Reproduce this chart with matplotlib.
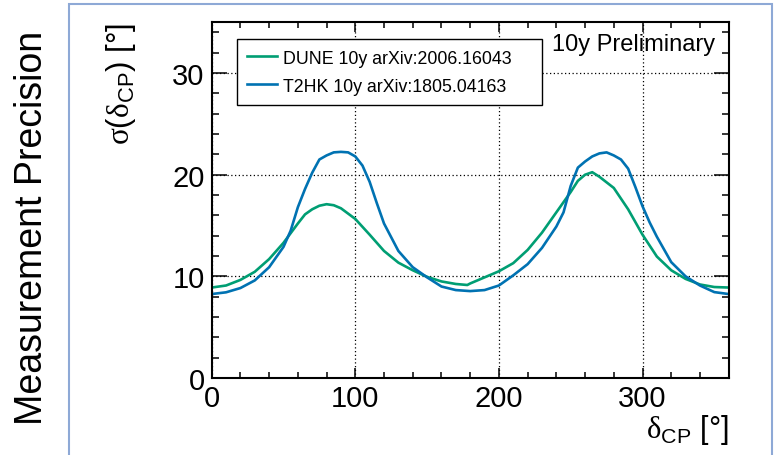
import matplotlib
matplotlib.use("Agg")
import matplotlib.pyplot as plt
from matplotlib.patches import Rectangle
from matplotlib.ticker import MultipleLocator

plt.rcParams['font.family'] = ['Liberation Sans', 'DejaVu Sans']
plt.rcParams['mathtext.fontset'] = 'custom'
plt.rcParams['mathtext.rm'] = 'Liberation Sans'
plt.rcParams['mathtext.it'] = 'Liberation Sans:italic'
plt.rcParams['mathtext.bf'] = 'Liberation Serif'

# sigma(delta_CP) vs true delta_CP, degrees
dune_x = [0, 10, 20, 30, 40, 50, 60, 65, 70, 75, 80, 85, 90, 100, 110, 120, 130,
          140, 150, 160, 170, 178, 180, 190, 200, 210, 220, 230, 240, 250, 255,
          260, 265, 270, 280, 290, 300, 310, 320, 330, 340, 350, 360]
dune_y = [8.9, 9.1, 9.65, 10.45, 11.7, 13.3, 15.2, 16.1, 16.6, 16.95, 17.1, 17.0,
          16.7, 15.65, 14.1, 12.5, 11.35, 10.6, 9.95, 9.5, 9.25, 9.15, 9.3, 9.9,
          10.5, 11.3, 12.6, 14.3, 16.3, 18.3, 19.4, 20.0, 20.25, 19.8, 18.7,
          16.6, 14.1, 11.95, 10.6, 9.75, 9.2, 8.95, 8.9]

t2hk_x = [0, 10, 20, 30, 40, 50, 55, 60, 65, 70, 75, 80, 85, 90, 95, 100, 105,
          110, 115, 120, 130, 140, 150, 160, 170, 180, 190, 200, 210, 220, 230,
          240, 245, 250, 255, 260, 265, 270, 275, 280, 285, 290, 295, 300, 305,
          310, 320, 330, 340, 350, 360]
t2hk_y = [8.26, 8.43, 8.85, 9.6, 10.9, 12.9, 14.5, 16.8, 18.6, 20.2, 21.5, 21.9,
          22.2, 22.25, 22.2, 21.8, 20.9, 19.3, 17.2, 15.2, 12.5, 10.9, 9.9, 9.0,
          8.65, 8.55, 8.65, 9.1, 10.1, 11.2, 12.8, 14.9, 16.3, 18.9, 20.7, 21.3,
          21.8, 22.1, 22.2, 21.9, 21.5, 20.6, 18.8, 16.9, 15.3, 13.9, 11.4, 10.0,
          9.1, 8.45, 8.26]

labels = ['DUNE 10y arXiv:2006.16043', 'T2HK 10y arXiv:1805.04163']
colors = ['#009e73', '#0072b2']

fig = plt.figure(figsize=(7.76, 4.56), dpi=100)
ax = fig.add_axes([0.2728, 0.1689, 0.6662, 0.78])

# slide frame around the plot
fig.patches.append(Rectangle((0.0893, -0.1), 0.9055, 1.0897, transform=fig.transFigure,
                             fill=False, edgecolor='#8ea9d6', linewidth=1.5, zorder=0))

ax.plot(dune_x, dune_y, color=colors[0], lw=1.9, label=labels[0])
ax.plot(t2hk_x, t2hk_y, color=colors[1], lw=1.9, label=labels[1])

ax.set_xlim(0, 360)
ax.set_ylim(0, 35)
ax.xaxis.set_major_locator(MultipleLocator(100))
ax.xaxis.set_minor_locator(MultipleLocator(20))
ax.yaxis.set_major_locator(MultipleLocator(10))
ax.yaxis.set_minor_locator(MultipleLocator(2))

ax.grid(True, which='major', color='black', linestyle=(0, (1, 2)), linewidth=0.9)
for s in ax.spines.values():
    s.set_linewidth(1.5)

ax.tick_params(axis='both', which='both', direction='in', top=True, right=True,
               labelsize=21, width=1.1, colors='black')
ax.tick_params(axis='y', which='major', length=10.5, pad=5)
ax.tick_params(axis='y', which='minor', length=5.2)
ax.tick_params(axis='x', which='major', length=7.5, pad=4)
ax.tick_params(axis='x', which='minor', length=4)

# greek letters in serif, the rest sans
ax.set_ylabel(r'$\mathbf{\sigma}\mathrm{(}\mathbf{\delta}_{\mathrm{CP}}\mathrm{)}$ [°]',
              fontsize=22.5, loc='top', labelpad=25)
ax.set_xlabel(r'$\mathbf{\delta}_{\mathrm{CP}}$ [°]', fontsize=22, loc='right', labelpad=0)

ax.text(0.9735, 0.922, '10y Preliminary', transform=ax.transAxes, ha='right',
        va='baseline', fontsize=17)

leg = ax.legend(loc='upper left', bbox_to_anchor=(0.048, 0.780, 0.591, 0.173),
                mode='expand', borderaxespad=0, fontsize=12.8, frameon=True,
                fancybox=False, edgecolor='black', framealpha=1, handlelength=1.65,
                handletextpad=0.38, labelspacing=0.62, borderpad=0.6)
leg.get_frame().set_linewidth(1.0)

fig.text(0.041, 0.5, 'Measurement Precision', rotation=90, ha='center', va='center',
         fontsize=27)

fig.savefig('out.png', dpi=100)
